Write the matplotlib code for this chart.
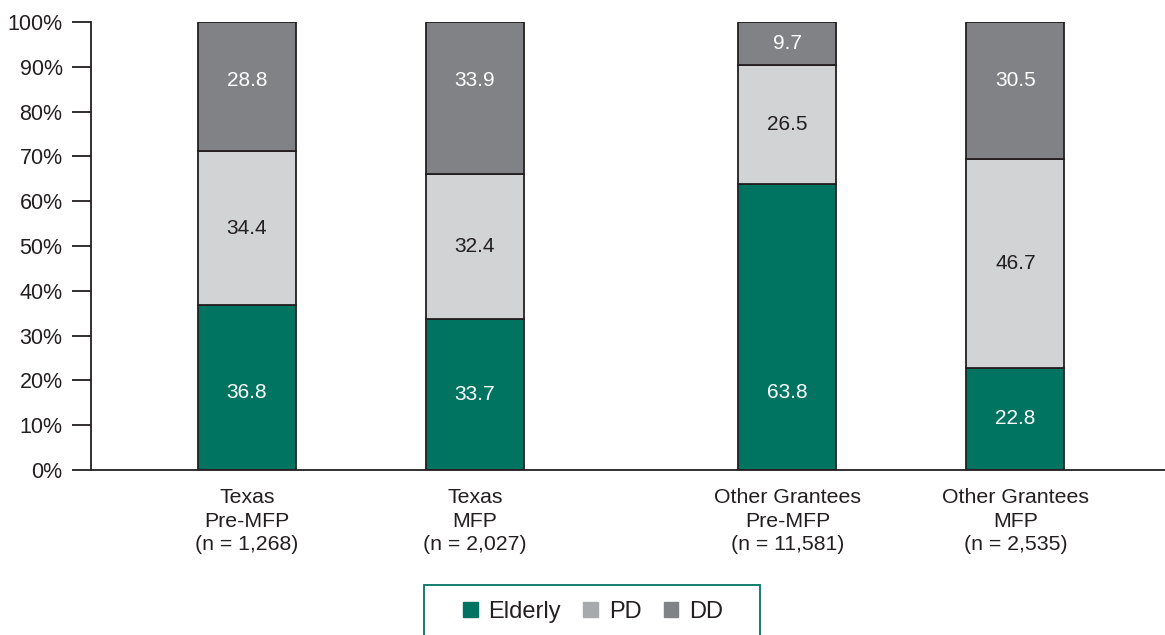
import numpy as np
import matplotlib
matplotlib.use('Agg')
import matplotlib.pyplot as plt
from matplotlib.patches import Patch, Rectangle

plt.rcParams['font.family'] = ['Liberation Sans', 'DejaVu Sans']

# 各组人群构成 (%)
groups = ['Texas\nPre-MFP\n(n = 1,268)',
          'Texas\nMFP\n(n = 2,027)',
          'Other Grantees\nPre-MFP\n(n = 11,581)',
          'Other Grantees\nMFP\n(n = 2,535)']
elderly = [36.8, 33.7, 63.8, 22.8]
pd_vals = [34.4, 32.4, 26.5, 46.7]
dd_vals = [28.8, 33.9, 9.7, 30.5]

c_elderly = '#007461'
c_pd = '#d1d3d4'
c_dd = '#808285'
c_text = '#231f20'

x = np.array([0, 1, 2.37, 3.37])
w = 0.43

fig = plt.figure(figsize=(11.65, 6.35), dpi=100)
ax = fig.add_axes([0.0781, 0.2598, 0.9219, 0.7056])

ax.bar(x, elderly, w, color=c_elderly, edgecolor=c_text, linewidth=1.3)
ax.bar(x, pd_vals, w, bottom=elderly, color=c_pd, edgecolor=c_text, linewidth=1.3)
bottom_dd = np.array(elderly) + np.array(pd_vals)
ax.bar(x, dd_vals, w, bottom=bottom_dd, color=c_dd, edgecolor=c_text, linewidth=1.3)

# 数值标签：高柱段的标签靠近底部/顶部
for i in range(len(x)):
    y_e = min(elderly[i] / 2, 17.2)
    y_p = elderly[i] + pd_vals[i] / 2
    y_d = max(bottom_dd[i] + dd_vals[i] / 2, 87)
    ax.text(x[i], y_e, f'{elderly[i]:.1f}', ha='center', va='center',
            fontsize=15, color='white')
    ax.text(x[i], y_p, f'{pd_vals[i]:.1f}', ha='center', va='center',
            fontsize=15, color=c_text)
    ax.text(x[i], y_d, f'{dd_vals[i]:.1f}', ha='center', va='center',
            fontsize=15, color='white')

ax.set_xlim(-0.684, 4.026)
ax.set_ylim(0, 100)
ax.set_yticks(np.arange(0, 101, 10))
ax.set_yticklabels([f'{v}%' for v in range(0, 101, 10)])
ax.tick_params(axis='y', length=13.5, width=1.3, pad=7, labelsize=15.5,
               colors=c_text, direction='out')
ax.set_xticks(x)
ax.set_xticklabels(groups, fontsize=15.3, color=c_text, linespacing=1.3)
ax.tick_params(axis='x', length=0, pad=13)

for s in ['top', 'right']:
    ax.spines[s].set_visible(False)
for s in ['left', 'bottom']:
    ax.spines[s].set_color(c_text)
    ax.spines[s].set_linewidth(1.3)

handles = [Patch(color=c_elderly, label='Elderly'),
           Patch(color='#a7a9ac', label='PD'),
           Patch(color=c_dd, label='DD')]
leg = fig.legend(handles=handles, loc='center', bbox_to_anchor=(593 / 1165, 1 - 612 / 635),
                 ncol=3, fontsize=17, frameon=False,
                 handlelength=0.62, handleheight=0.62, handletextpad=0.45,
                 columnspacing=0.95, borderpad=0, borderaxespad=0)
for t in leg.get_texts():
    t.set_color(c_text)

# 图例外框（底边超出画布）
fig.patches.append(Rectangle((424 / 1165, -0.02), 336 / 1165, 0.02 + 50 / 635,
                             transform=fig.transFigure, fill=False,
                             edgecolor=c_elderly, linewidth=1.3))

fig.savefig('out.png', dpi=100)
